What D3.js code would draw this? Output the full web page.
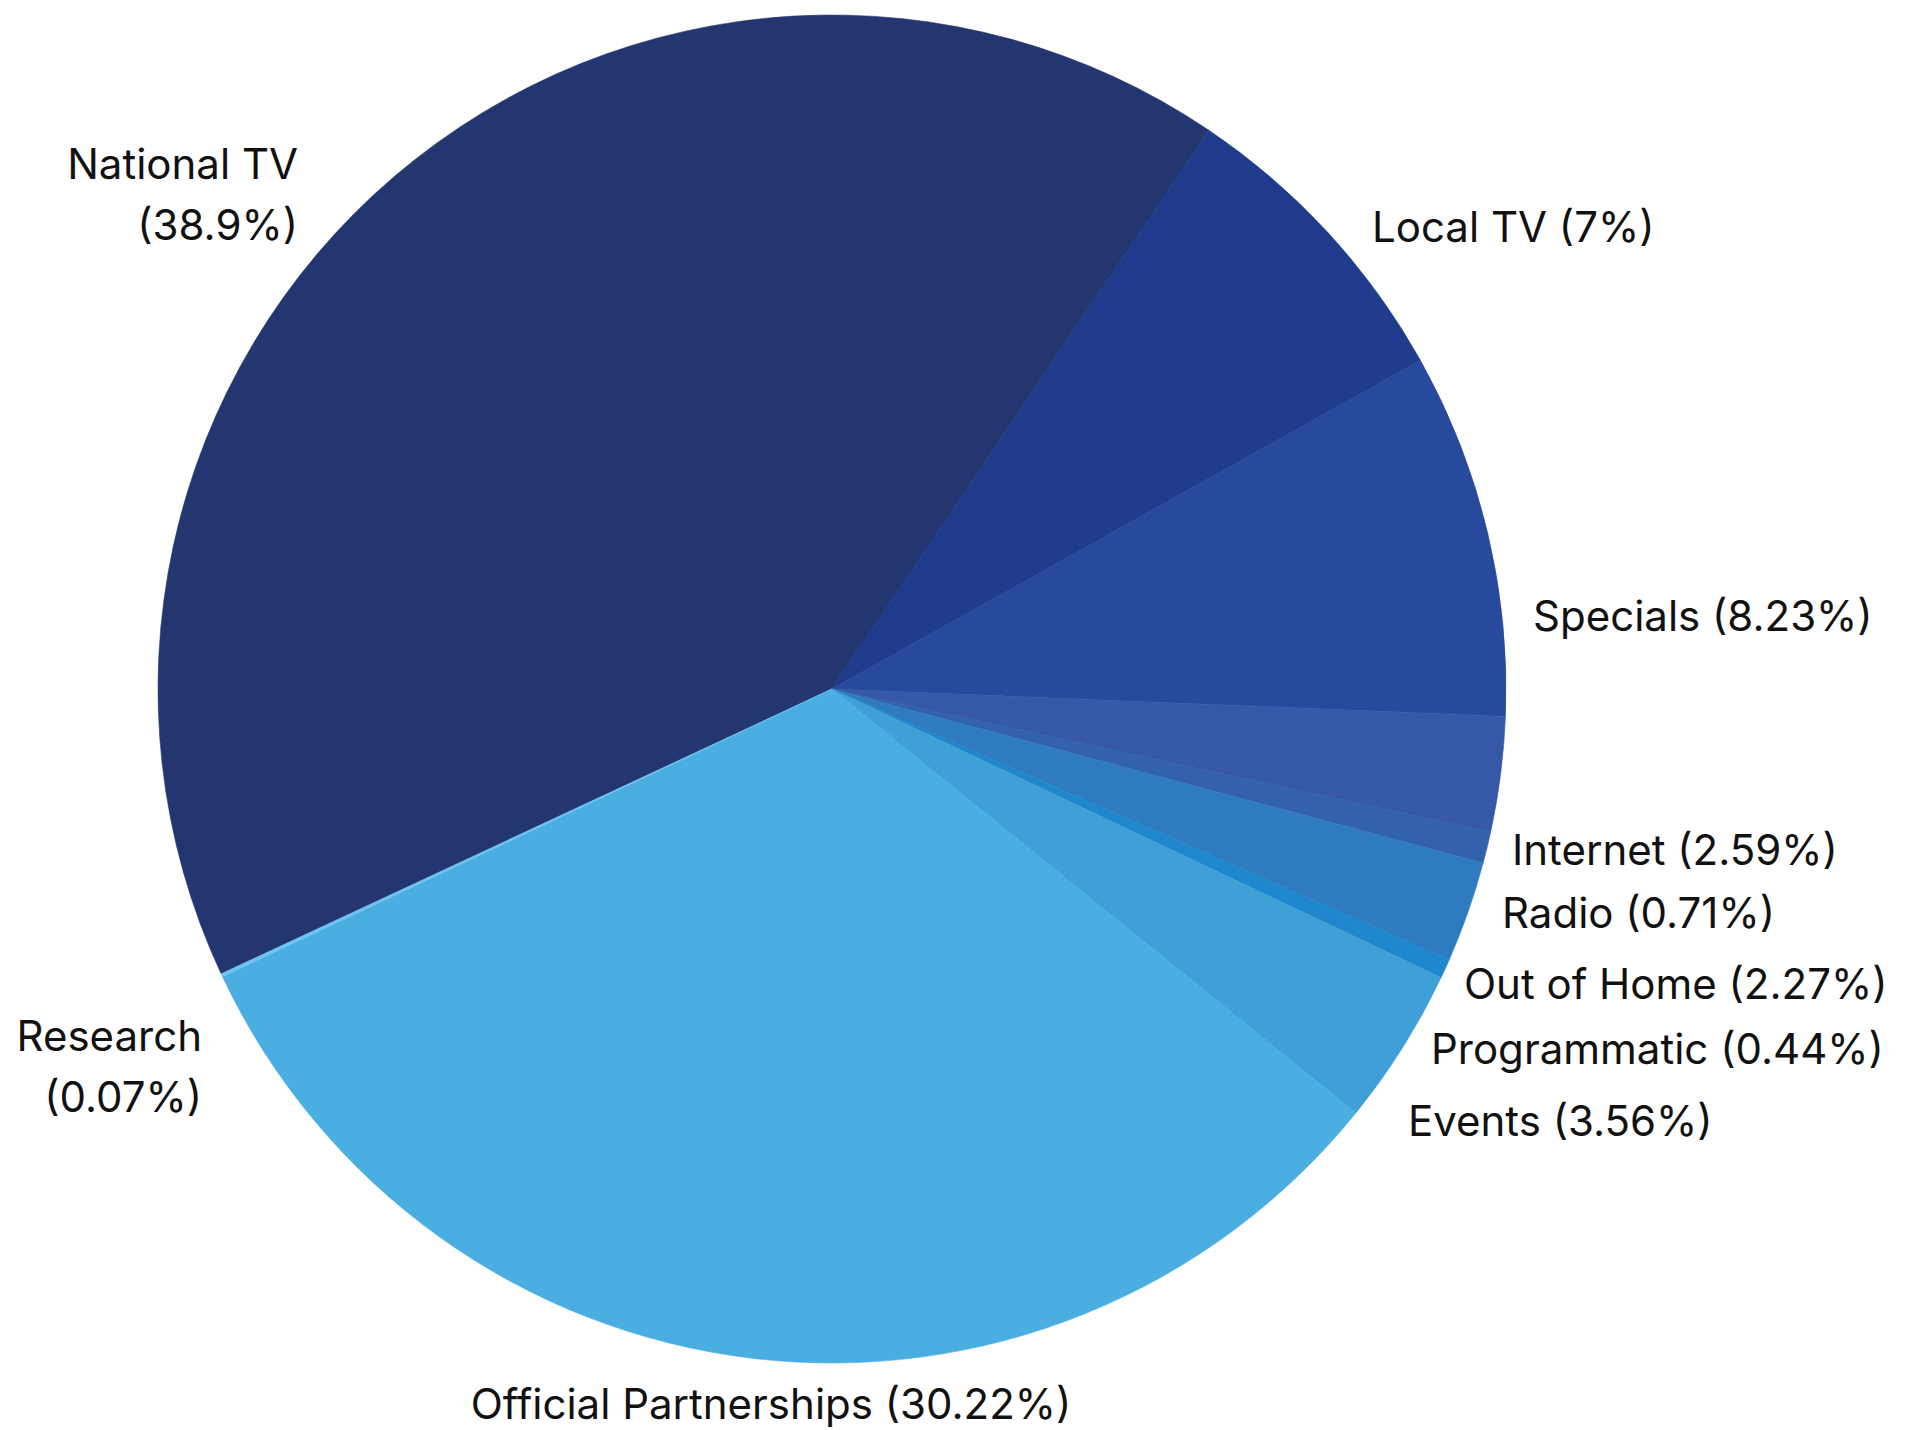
<!DOCTYPE html>
<html>
<head>
<meta charset="utf-8">
<script src="https://cdn.jsdelivr.net/npm/d3@7"></script>
<style>
  html, body { margin: 0; padding: 0; background: #ffffff; }
  svg { display: block; }
  text { font-family: Inter, "Noto Sans", sans-serif; fill: #111111; }
</style>
</head>
<body>
<svg id="chart" width="1907" height="1430"></svg>
<script>
// Media spend share by channel (percent)
const categories = [
  "National TV", "Local TV", "Specials", "Internet", "Radio",
  "Out of Home", "Programmatic", "Events", "Official Partnerships", "Research"
];
const shares = [38.9, 7, 8.23, 2.59, 0.71, 2.27, 0.44, 3.56, 30.22, 0.07];

// Slice colours, same order as the categories
const colors = [
  "#233670", "#1f3b8c", "#284a9c", "#3558a8", "#3262ab",
  "#2f7bbf", "#1f88cc", "#409fd6", "#4aaee0", "#6cc4ef"
];

// Label placement: x/y of the first baseline, anchor, and whether the value goes on a second line
const labelLayout = [
  { x: 298,  y: 179,  anchor: "end",    split: true,  gap: 61 },
  { x: 1372, y: 242,  anchor: "start",  split: false },
  { x: 1533, y: 631,  anchor: "start",  split: false },
  { x: 1512, y: 865,  anchor: "start",  split: false },
  { x: 1502, y: 928,  anchor: "start",  split: false },
  { x: 1464, y: 999,  anchor: "start",  split: false },
  { x: 1431, y: 1064, anchor: "start",  split: false },
  { x: 1408, y: 1136, anchor: "start",  split: false },
  { x: 771,  y: 1419, anchor: "middle", split: false },
  { x: 202,  y: 1051, anchor: "end",    split: true,  gap: 61 }
];

const width = 1907, height = 1430;
const cx = 832, cy = 689, radius = 674;

const data = categories.map((name, i) => ({ name, value: shares[i], color: colors[i] }));

const svg = d3.select("#chart");

const start = 245 * Math.PI / 180;
const pie = d3.pie()
  .sort(null)
  .value(d => d.value)
  .startAngle(start)
  .endAngle(start + 2 * Math.PI);

const arc = d3.arc().innerRadius(0).outerRadius(radius);

const g = svg.append("g").attr("transform", `translate(${cx},${cy})`);

g.selectAll("path.slice")
  .data(pie(data))
  .join("path")
  .attr("class", "slice")
  .attr("d", arc)
  .attr("fill", d => d.data.color)
  .attr("stroke", d => d.data.color)
  .attr("stroke-width", 0.6)
  .attr("stroke-linejoin", "round");

// Category labels with their shares
const labels = svg.append("g")
  .attr("font-size", 42);

data.forEach((d, i) => {
  const L = labelLayout[i];
  const valueText = `(${d.value}%)`;
  const t = labels.append("text")
    .attr("x", L.x)
    .attr("y", L.y)
    .attr("text-anchor", L.anchor);
  if (L.split) {
    t.append("tspan").attr("x", L.x).attr("y", L.y).text(d.name);
    t.append("tspan").attr("x", L.x).attr("y", L.y + L.gap).text(valueText);
  } else {
    t.text(`${d.name} ${valueText}`);
  }
});
</script>
</body>
</html>
